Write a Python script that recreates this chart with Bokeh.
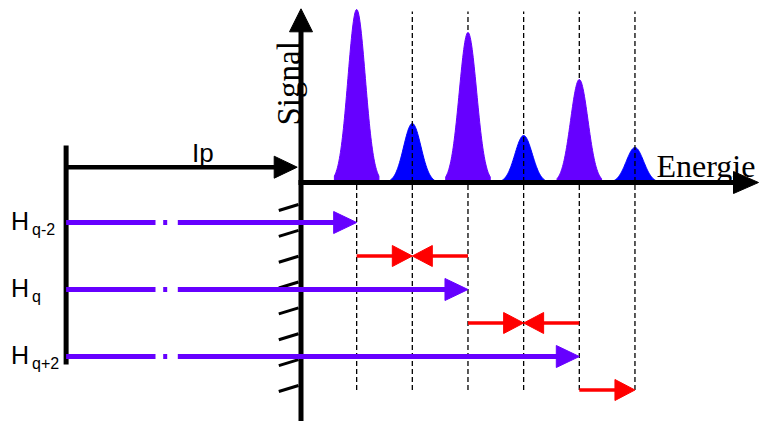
import numpy as np
from bokeh.plotting import figure
from bokeh.models import Range1d
from bokeh.core.properties import value
from bokeh.embed import file_html
from bokeh.resources import INLINE

# ---------------- data ----------------
# peaks of the photo-electron spectrum, energies in units of hbar*omega above the threshold
peak_energy = [1, 2, 3, 4, 5, 6]
peak_signal = [173, 59, 150, 47, 103, 35]          # arbitrary units
peak_kind = ["harmonic", "sideband", "harmonic", "sideband", "harmonic", "sideband"]
ip_energy = 4.22                                     # ionisation potential, same units
harmonic_names = ["q-2", "q", "q+2"]
harmonic_energy = [1, 3, 5]                          # where each harmonic photon brings the electron
ir_start = [1, 3, 5]                                 # red (IR) transitions: start, end, meeting point
ir_end = [3, 5, 6]
ir_meet = [2, 4, 6]

# ---------------- layout (page pixels -> data) ----------------
W, H = 759, 421
OFF = 0               # page offset of the plot canvas
SX = 55.66            # pixels per energy unit
X0, Y0 = 300.5, 182.0  # page pixel of the origin
def px(n):            # horizontal pixels -> energy units
    return n / SX

PURPLE, BLUE, RED, BLACK = "#6600ff", "#0000ff", "#ff0000", "#000000"

p = figure(width=W, height=H, output_backend="svg", toolbar_location=None,
           x_range=Range1d((OFF - X0) / SX, (OFF + W - X0) / SX),
           y_range=Range1d(Y0 - (OFF + H), Y0 - OFF),
           min_border=0, outline_line_color=None)
p.axis.visible = False
p.grid.visible = False
p.background_fill_color = "white"
p.border_fill_color = "white"

def head(tx, ty, direction, L, Wd):
    if direction == "right":
        return [tx, tx - px(L), tx - px(L)], [ty, ty + Wd / 2, ty - Wd / 2]
    if direction == "left":
        return [tx, tx + px(L), tx + px(L)], [ty, ty + Wd / 2, ty - Wd / 2]
    return [tx, tx - px(Wd / 2), tx + px(Wd / 2)], [ty, ty - L, ty - L]

# rows below the energy axis
row0, row_step = -40.0, -67.0
harm_rows = [row0 + row_step * i for i in range(len(harmonic_names))]
ir_rows = [r - 33.5 for r in harm_rows]
dash_top, dash_bottom = 171.0, ir_rows[-1]

# peaks (sidebands first, then guide lines, then harmonics on top)
sigma, half = 0.156, 0.40
shapes = {"harmonic": ([], []), "sideband": ([], [])}
for e, s, k in zip(peak_energy, peak_signal, peak_kind):
    xx = np.linspace(e - half, e + half, 90)
    yy = s * np.exp(-(xx - e) ** 2 / (2 * sigma ** 2))
    shapes[k][0].append(list(xx) + [e + half, e - half])
    shapes[k][1].append(list(yy) + [0, 0])

p.patches(shapes["sideband"][0], shapes["sideband"][1], fill_color=BLUE, line_color=BLUE, line_width=1)
p.segment(x0=peak_energy, y0=[dash_bottom] * len(peak_energy), x1=peak_energy,
          y1=[dash_top] * len(peak_energy), line_color=BLACK, line_width=1.3, line_dash="5 3")
p.patches(shapes["harmonic"][0], shapes["harmonic"][1], fill_color=PURPLE, line_color=PURPLE, line_width=1)

# axes
y_tip, x_tip = 173.7, (758 - X0) / SX
p.segment(x0=[0], y0=[Y0 - 430], x1=[0], y1=[y_tip - 22], line_color=BLACK, line_width=5)
hx, hy = head(0, y_tip, "up", 23, 23)
p.patch(hx, hy, color=BLACK)
p.segment(x0=[px(-2.5)], y0=[0], x1=[x_tip - px(24)], y1=[0], line_color=BLACK, line_width=5)
hx, hy = head(x_tip, 0, "right", 25, 22)
p.patch(hx, hy, color=BLACK)

# mirror hatches
hatch_y = [-25 - 25.85 * i for i in range(8)]
p.segment(x0=[px(-22.2)] * 8, y0=[y - 3 for y in hatch_y], x1=[px(-2.5)] * 8,
          y1=[y + 3 for y in hatch_y], line_color=BLACK, line_width=3)

# left bar (ground state) and Ip arrow
p.segment(x0=[-ip_energy], y0=[37], x1=[-ip_energy], y1=[-182], line_color=BLACK, line_width=5)
ip_y, ip_tip = 15.3, px(-3.8)
p.segment(x0=[-ip_energy], y0=[ip_y], x1=[ip_tip - px(21)], y1=[ip_y], line_color=BLACK, line_width=4.5)
hx, hy = head(ip_tip, ip_y, "right", 23, 22)
p.patch(hx, hy, color=BLACK)

# harmonic photon arrows (with a break)
b1, d0, d1, b2 = px(155 - X0), px(162.7 - X0), px(166.7 - X0), px(177.3 - X0)
for e, y in zip(harmonic_energy, harm_rows):
    p.segment(x0=[-ip_energy, d0, b2], y0=[y] * 3, x1=[b1, d1, e - px(20)], y1=[y] * 3,
              line_color=PURPLE, line_width=5)
    hx, hy = head(e, y, "right", 23, 22)
    p.patch(hx, hy, color=PURPLE)

# IR transitions
for s, e, m, y in zip(ir_start, ir_end, ir_meet, ir_rows):
    p.segment(x0=[s], y0=[y], x1=[m - px(18)], y1=[y], line_color=RED, line_width=3.3)
    hx, hy = head(m, y, "right", 20, 21)
    p.patch(hx, hy, color=RED)
    if e != m:
        p.segment(x0=[e], y0=[y], x1=[m + px(18)], y1=[y], line_color=RED, line_width=3.3)
        hx, hy = head(m, y, "left", 20, 21)
        p.patch(hx, hy, color=RED)

# texts
sans, serif = value("Liberation Sans"), value("Liberation Serif")
p.text(x=[px(191.5 - X0)], y=[Y0 - 152.5], text=["Ip"], text_font=sans, text_font_size="26px",
       text_align="left", text_baseline="alphabetic", text_color=BLACK)
p.text(x=[px(10.5 - X0)] * 3, y=[r + 1.5 for r in harm_rows], text=["H"] * 3, text_font=sans,
       text_font_size="25px", text_align="left", text_baseline="alphabetic", text_color=BLACK)
p.text(x=[px(31.5 - X0)] * 3, y=[r - 6.5 for r in harm_rows], text=harmonic_names, text_font=sans,
       text_font_size="16px", text_align="left", text_baseline="alphabetic", text_color=BLACK)
p.text(x=[px(288.5 - X0)], y=[Y0 - 125], text=["Signal"], angle=np.pi / 2, text_font=serif,
       text_font_size="33px", text_align="left", text_baseline="alphabetic", text_color=BLACK)
p.text(x=[px(656 - X0)], y=[Y0 - 165], text=["Energie"], text_font=serif,
       text_font_size="32px", text_align="left", text_baseline="alphabetic", text_color=BLACK)

open("out.html", "w").write(file_html(p, INLINE))
